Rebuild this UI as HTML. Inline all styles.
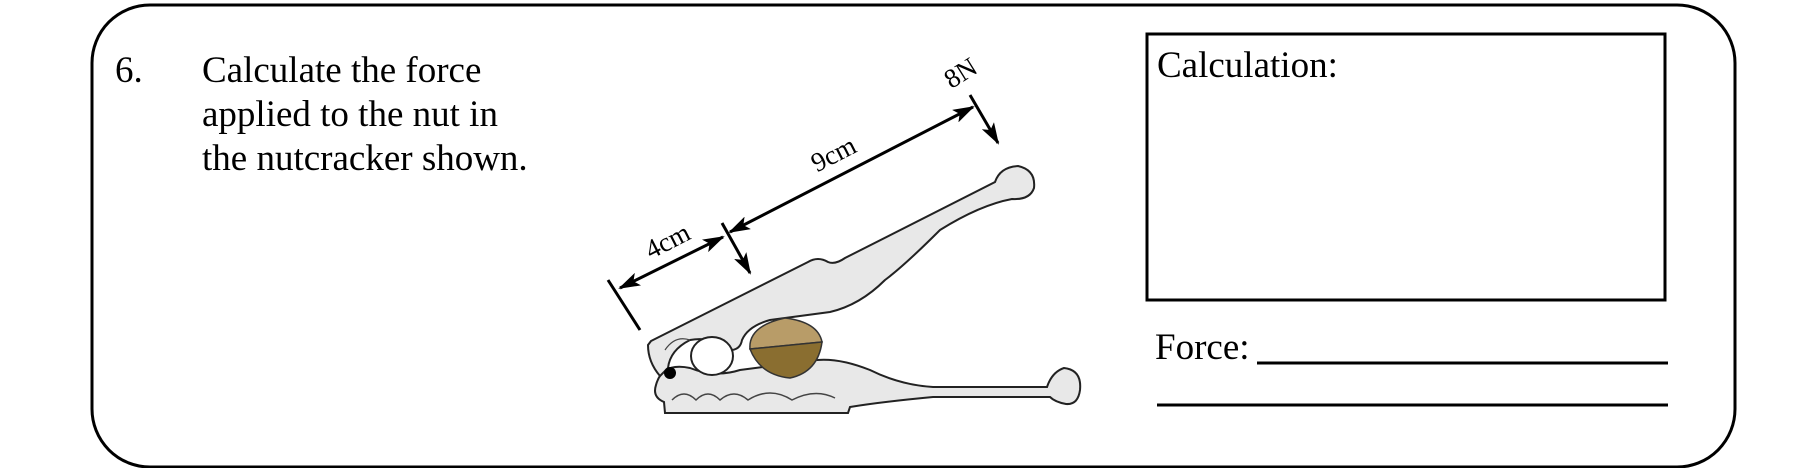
<!DOCTYPE html>
<html><head><meta charset="utf-8"><style>
html,body{margin:0;padding:0;background:#fff;}
body{width:1818px;height:468px;position:relative;overflow:hidden;font-family:"Liberation Serif",serif;color:#000;}
.t{position:absolute;font-size:37px;line-height:37px;white-space:nowrap;}
</style></head><body>
<svg width="1818" height="468" style="position:absolute;left:0;top:0">
<rect x="92" y="5" width="1643" height="462" rx="58" ry="58" fill="none" stroke="#000" stroke-width="3"/>
<rect x="1147" y="34" width="518" height="266" fill="none" stroke="#000" stroke-width="3"/>
<line x1="1257" y1="363" x2="1668" y2="363" stroke="#000" stroke-width="3"/>
<line x1="1157" y1="405" x2="1668" y2="405" stroke="#000" stroke-width="3"/>
<defs>
<marker id="b" markerWidth="22" markerHeight="14" refX="20" refY="7" orient="auto-start-reverse" markerUnits="userSpaceOnUse"><path d="M0,0 L22,7 L0,14 L5,7 Z" fill="#000"/></marker></defs>
<path d="M656,385 Q662,362 690,368 Q715,378 740,370 L817,360 Q840,358 870,370 Q900,385 933,387 L1047,387 Q1052,372 1064,368 Q1082,370 1080,390 Q1078,405 1066,404 Q1055,402 1050,397 L933,397 Q880,402 850,407 L848,413 L665,413 L664,402 Q652,397 656,385 Z" fill="#e8e8e8" stroke="#222" stroke-width="2"/>
<path d="M672,400 Q684,388 696,400 Q708,388 720,400 Q734,388 748,400 Q770,386 792,400 Q815,388 835,398" fill="none" stroke="#444" stroke-width="1.5"/>
<path d="M648,345 L651,341 L808,262 Q818,256 828,262 Q835,265 845,258 L995,182 Q1000,167 1018,166 Q1036,170 1034,188 Q1030,200 1012,199 Q980,205 940,230 Q905,265 885,280 Q860,305 830,312 Q800,316 770,320 Q748,326 742,340 Q740,352 725,350 Q712,336 690,340 Q670,350 668,368 L660,376 Q648,362 648,345 Z" fill="#e8e8e8" stroke="#222" stroke-width="2"/>
<path d="M665,350 Q675,335 690,340" fill="none" stroke="#444" stroke-width="1.2"/>
<ellipse cx="712" cy="356" rx="21" ry="19" fill="#fff" stroke="#222" stroke-width="2"/>
<circle cx="670" cy="373" r="6" fill="#000"/>
<path d="M750,349 Q748,326 785,318 Q818,322 822,342 Z" fill="#b89c68" stroke="#333" stroke-width="1.5"/>
<path d="M750,349 L822,342 Q818,372 790,378 Q760,375 750,349 Z" fill="#8a6e30" stroke="#333" stroke-width="1.5"/>
<line x1="608" y1="280" x2="640" y2="330" stroke="#000" stroke-width="3"/>
<line x1="620" y1="288" x2="723" y2="237" stroke="#000" stroke-width="3" marker-start="url(#b)" marker-end="url(#b)"/>
<line x1="730" y1="232" x2="973" y2="107" stroke="#000" stroke-width="3" marker-start="url(#b)" marker-end="url(#b)"/>
<line x1="722" y1="223" x2="750" y2="273" stroke="#000" stroke-width="3" marker-end="url(#b)"/>
<line x1="970" y1="95" x2="998" y2="143" stroke="#000" stroke-width="3" marker-end="url(#b)"/>
<text x="667" y="250" font-family="Liberation Serif" font-size="27" text-anchor="middle" transform="rotate(-27 667 240)">4cm</text>
<text x="833" y="163" font-family="Liberation Serif" font-size="27" text-anchor="middle" transform="rotate(-27 833 153)">9cm</text>
<text x="960" y="82" font-family="Liberation Serif" font-size="27" text-anchor="middle" transform="rotate(-32 960 72)">8N</text>
</svg>
<div class="t" style="left:115px;top:52px">6.</div>
<div class="t" style="left:202px;top:52px">Calculate the force</div>
<div class="t" style="left:202px;top:96px">applied to the nut in</div>
<div class="t" style="left:202px;top:140px">the nutcracker shown.</div>
<div class="t" style="left:1157px;top:47px">Calculation:</div>
<div class="t" style="left:1155px;top:329px">Force:</div>
</body></html>
